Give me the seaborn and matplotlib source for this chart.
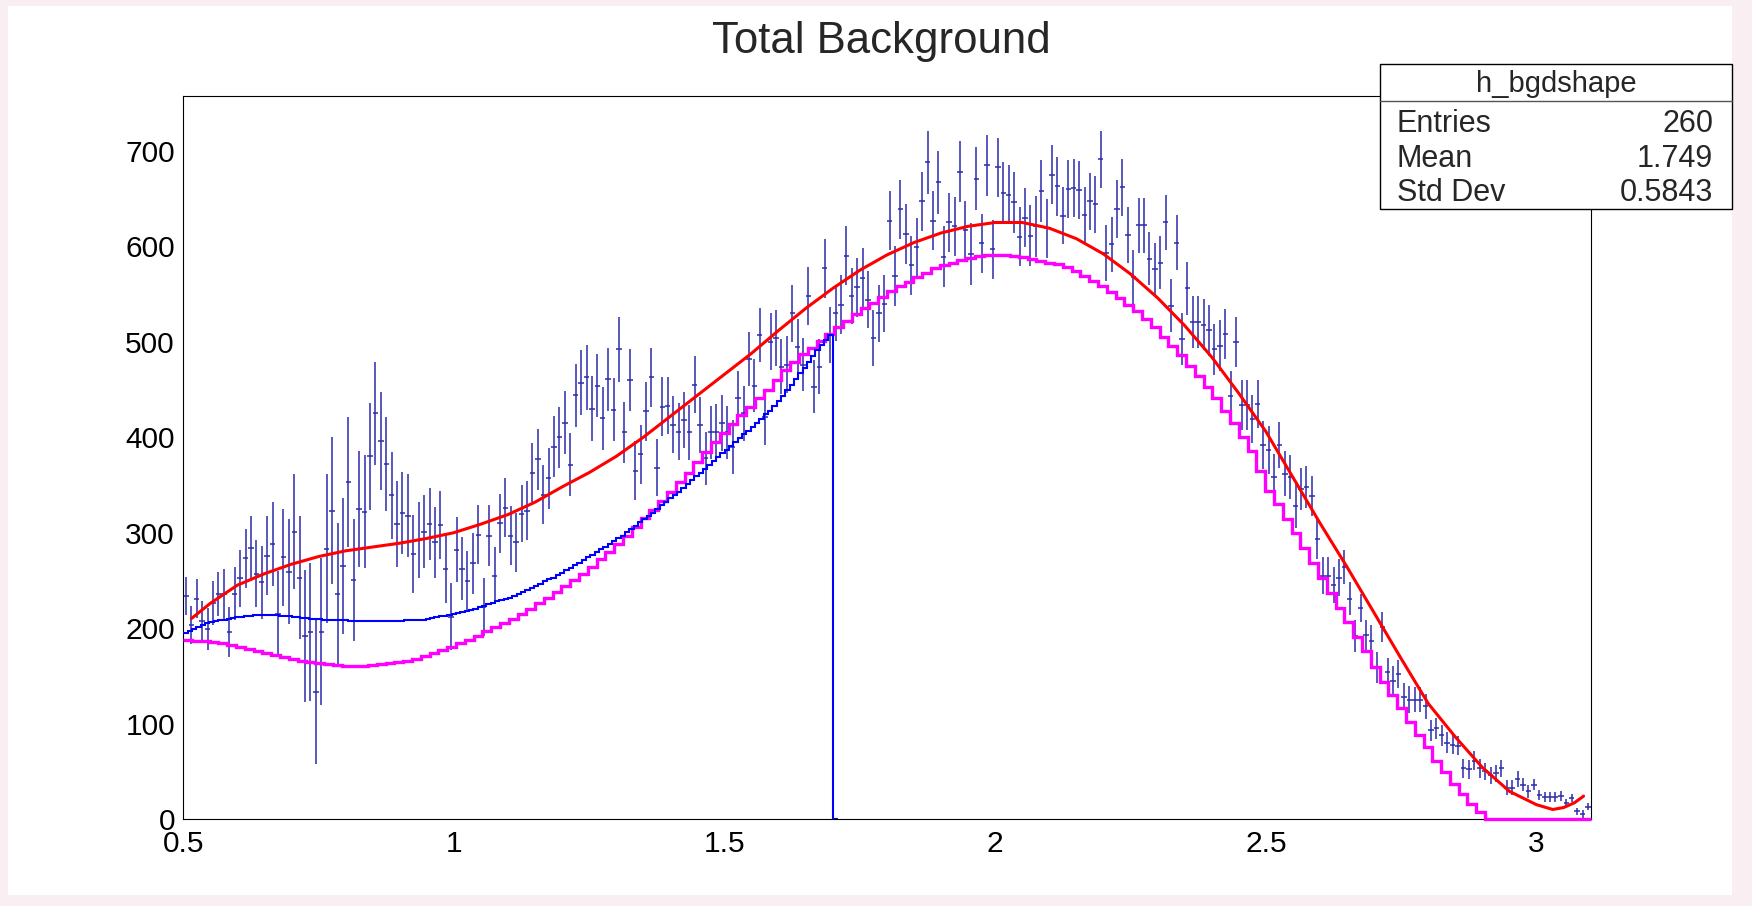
import numpy as np
import matplotlib
matplotlib.use('Agg')
import matplotlib.pyplot as plt
import seaborn as sns
from matplotlib.patches import Rectangle
from matplotlib.lines import Line2D
from matplotlib.ticker import MultipleLocator, FuncFormatter

# data histogram h_bgdshape: 260 bins of 0.01 on [0.5, 3.1]
counts = [
    234, 203, 231, 207, 199, 226, 236, 236, 196, 236,
    252, 273, 284, 257, 248, 276, 288, 215, 274, 259,
    301, 253, 192, 196, 133, 196, 283, 323, 236, 265,
    353, 250, 325, 322, 380, 425, 396, 372, 339, 309,
    321, 318, 278, 292, 301, 309, 290, 308, 262, 212,
    282, 262, 249, 268, 298, 222, 297, 255, 310, 326,
    297, 290, 320, 323, 363, 377, 340, 357, 390, 400,
    415, 371, 444, 457, 463, 430, 454, 420, 461, 429,
    492, 405, 460, 365, 382, 427, 463, 368, 432, 433,
    413, 406, 418, 405, 455, 413, 378, 405, 406, 415,
    405, 390, 441, 425, 482, 454, 507, 421, 500, 504,
    474, 476, 530, 495, 476, 548, 453, 474, 577, 507,
    530, 539, 590, 548, 557, 567, 544, 504, 530, 540,
    627, 569, 639, 613, 580, 599, 647, 688, 627, 667,
    589, 625, 621, 678, 617, 592, 671, 603, 685, 597,
    683, 656, 654, 646, 610, 630, 611, 621, 658, 619,
    675, 663, 632, 660, 661, 659, 633, 647, 644, 691,
    593, 602, 639, 662, 612, 568, 622, 622, 587, 576,
    583, 625, 538, 604, 503, 556, 521, 521, 518, 512,
    492, 496, 508, 443, 500, 434, 434, 419, 435, 392,
    387, 358, 392, 362, 358, 328, 346, 348, 338, 293,
    255, 255, 245, 253, 264, 231, 192, 221, 193, 187,
    159, 201, 154, 145, 152, 128, 125, 125, 125, 118,
    93, 95, 88, 80, 78, 77, 53, 52, 61, 53,
    50, 46, 48, 53, 33, 33, 42, 36, 29, 36,
    25, 23, 23, 23, 24, 17, 22, 8, 5, 13,
]
errors = [
    20, 20, 20, 21, 22, 23, 23, 26, 26, 28,
    30, 31, 34, 35, 38, 41, 44, 45, 51, 55,
    60, 64, 69, 72, 75, 77, 78, 77, 74, 71,
    68, 64, 61, 59, 56, 54, 51, 49, 46, 45,
    43, 43, 41, 40, 38, 38, 37, 36, 36, 35,
    34, 33, 32, 32, 31, 30, 32, 30, 31, 31,
    31, 31, 30, 31, 31, 32, 31, 32, 32, 32,
    33, 33, 33, 34, 34, 34, 33, 33, 33, 33,
    34, 32, 32, 31, 31, 31, 31, 30, 31, 30,
    30, 30, 29, 29, 30, 29, 28, 28, 29, 29,
    28, 28, 28, 29, 28, 28, 28, 29, 30, 29,
    29, 30, 30, 29, 28, 30, 28, 29, 31, 29,
    29, 31, 31, 29, 31, 31, 30, 29, 30, 30,
    31, 31, 31, 31, 31, 31, 31, 33, 31, 33,
    32, 31, 31, 32, 31, 32, 33, 31, 32, 31,
    31, 32, 31, 32, 31, 31, 32, 32, 32, 31,
    31, 31, 30, 30, 30, 30, 29, 30, 30, 30,
    29, 29, 30, 30, 29, 28, 29, 29, 28, 28,
    28, 29, 28, 29, 27, 28, 27, 27, 27, 27,
    27, 27, 26, 26, 26, 26, 26, 25, 25, 25,
    25, 24, 24, 24, 23, 23, 22, 22, 21, 21,
    19, 19, 19, 19, 18, 17, 17, 15, 16, 16,
    16, 16, 15, 15, 15, 14, 14, 13, 13, 13,
    11, 11, 11, 11, 10, 10, 10, 10, 10, 10,
    9, 9, 9, 9, 8, 8, 8, 7, 7, 6,
    5, 5, 5, 5, 5, 4, 4, 4, 4, 4,
]

# magenta template: 160 bins on [0.5, 3.1]
magenta_vals = [
    188, 187, 186, 185, 184, 182, 180, 178, 176, 174,
    172, 170, 168, 166, 164, 163, 162, 161, 160, 160,
    160, 161, 162, 163, 164, 166, 168, 171, 174, 177,
    180, 184, 188, 192, 197, 201, 205, 210, 215, 220,
    226, 232, 238, 244, 250, 257, 264, 272, 280, 288,
    297, 306, 315, 324, 333, 343, 353, 363, 374, 385,
    395, 404, 414, 423, 432, 441, 450, 460, 470, 479,
    487, 494, 501, 508, 515, 522, 529, 535, 541, 547,
    553, 558, 563, 568, 572, 577, 580, 583, 586, 588,
    590, 591, 591, 591, 590, 589, 587, 585, 583, 581,
    578, 574, 569, 564, 558, 552, 546, 539, 532, 524,
    515, 505, 496, 486, 475, 464, 453, 441, 428, 415,
    400, 386, 365, 344, 330, 314, 300, 284, 268, 253,
    237, 221, 206, 191, 176, 159, 144, 130, 116, 102,
    88, 75, 61, 49, 37, 26, 16, 7, 0, 0,
    0, 0, 0, 0, 0, 0, 0, 0, 0, 0,
]

# blue template: 150 bins on [0.5, 1.7]
blue_vals = [
    195, 197, 199, 201, 203, 205, 206, 207, 208, 209,
    210, 211, 212, 212, 213, 213, 214, 214, 214, 214,
    214, 214, 213, 213, 213, 212, 212, 211, 211, 210,
    210, 210, 209, 209, 208, 208, 208, 208, 207, 207,
    207, 207, 207, 207, 207, 207, 207, 207, 207, 207,
    207, 208, 208, 208, 209, 209, 210, 211, 212, 213,
    213, 214, 215, 216, 217, 218, 219, 220, 222, 223,
    225, 226, 228, 229, 231, 232, 234, 236, 238, 240,
    242, 244, 246, 249, 251, 253, 256, 258, 261, 263,
    266, 268, 271, 274, 277, 280, 283, 285, 288, 291,
    294, 297, 301, 304, 307, 311, 314, 318, 321, 325,
    329, 332, 336, 340, 343, 347, 351, 355, 359, 363,
    367, 371, 375, 379, 383, 387, 391, 395, 399, 403,
    407, 411, 415, 419, 424, 428, 433, 438, 443, 449,
    455, 461, 467, 473, 479, 485, 491, 497, 502, 507,
]

# red fit curve
fit_x = [0.515, 0.55, 0.6, 0.65, 0.7, 0.75, 0.8, 0.85, 0.9, 0.95, 1.0,
         1.05, 1.1, 1.15, 1.2, 1.25, 1.3, 1.35, 1.4, 1.45, 1.5,
         1.55, 1.6, 1.65, 1.7, 1.75, 1.8, 1.85, 1.9, 1.95, 2.0,
         2.05, 2.1, 2.15, 2.2, 2.25, 2.3, 2.35, 2.4, 2.45, 2.5,
         2.55, 2.6, 2.65, 2.7, 2.75, 2.8, 2.85, 2.9, 2.95, 3.0,
         3.03, 3.05, 3.07, 3.087]
fit_y = [210, 226, 245, 257, 267, 275, 281, 285, 289, 294, 300,
         309, 319, 332, 348, 363, 380, 400, 422, 444, 466,
         488, 512, 535, 556, 575, 591, 604, 614, 621, 625,
         625, 619, 608, 592, 571, 546, 517, 484, 446, 406,
         358, 310, 264, 216, 168, 121, 86, 54, 29, 15,
         10, 12, 17, 24]

stat_title = 'h_bgdshape'
stat_rows = [('Entries', '260'), ('Mean', '1.749'), ('Std Dev', '0.5843')]

sns.set_style('white')
plt.rcParams['font.family'] = ['Liberation Sans', 'DejaVu Sans']

W, H = 1752, 906
fig = plt.figure(figsize=(W / 100, H / 100), dpi=100)
fig.patch.set_facecolor('#f9eef2')
fig.add_artist(Rectangle((8 / W, 11 / H), 1724 / W, 889 / H, transform=fig.transFigure,
                         facecolor='white', edgecolor='none', zorder=-1))

ax = fig.add_axes([0.1046, 0.0960, 0.8033, 0.7975])

# data points with errors
data_edges = np.linspace(0.5, 3.1, len(counts) + 1)
data_x = (data_edges[:-1] + data_edges[1:]) / 2
ax.errorbar(data_x, counts, yerr=errors, xerr=0.005, fmt='none',
            ecolor='#2b2bab', elinewidth=1.1, capsize=0, zorder=2)

# templates
ax.stairs(magenta_vals, np.linspace(0.5, 3.1, len(magenta_vals) + 1), baseline=None,
          color='#ff00ff', lw=2.4, zorder=3, clip_on=False)
blue_edges = np.append(np.linspace(0.5, 1.7, len(blue_vals) + 1), 1.71)
ax.stairs(blue_vals + [0], blue_edges, baseline=None, color='#0000ff', lw=1.5, zorder=3)

# fit
sns.lineplot(x=fit_x, y=fit_y, ax=ax, color='#ff0000', lw=2.2, sort=False,
             legend=False, zorder=4)

ax.set_xlim(0.5, 3.1)
ax.set_ylim(0, 757)
ax.xaxis.set_major_locator(MultipleLocator(0.5))
ax.xaxis.set_minor_locator(MultipleLocator(0.1))
ax.yaxis.set_major_locator(MultipleLocator(100))
ax.yaxis.set_minor_locator(MultipleLocator(20))
ax.xaxis.set_major_formatter(FuncFormatter(lambda v, p: f'{v:g}'))
ax.tick_params(which='both', direction='in', top=False, right=False, width=0.8,
               colors='black', labelsize=21.5)
ax.tick_params(axis='x', which='major', length=15.8, pad=8)
ax.tick_params(axis='x', which='minor', length=7.9)
ax.tick_params(axis='y', which='major', length=30.7, pad=6)
ax.tick_params(axis='y', which='minor', length=15.6)
for s in ax.spines.values():
    s.set_color('black')
    s.set_linewidth(0.8)
ax.set_xlabel('')
ax.set_ylabel('')

fig.text(0.503, 1 - 42 / H, 'Total Background', ha='center', va='center', fontsize=31.5)

# stats box
bx0, bx1, by0, by1 = 1380 / W, 1731.7 / W, 1 - 209.3 / H, 1 - 64.3 / H
fig.add_artist(Rectangle((bx0, by0), bx1 - bx0, by1 - by0, transform=fig.transFigure,
                         facecolor='white', edgecolor='black', lw=1.0, zorder=10))
sep_y = 1 - 100.7 / H
fig.add_artist(Line2D([bx0, bx1], [sep_y, sep_y], transform=fig.transFigure,
                      color='#555555', lw=1.0, zorder=11))
fig.text(1556 / W, 1 - 84 / H, stat_title, ha='center', va='center', fontsize=21, zorder=12)
for k, (name, val) in enumerate(stat_rows):
    yy = 1 - (124 + 34.6 * k) / H
    fig.text(1396.7 / W, yy, name, ha='left', va='center', fontsize=22, zorder=12)
    fig.text(1713.3 / W, yy, val, ha='right', va='center', fontsize=22, zorder=12)

fig.savefig('out.png', dpi=100, facecolor=fig.get_facecolor())
